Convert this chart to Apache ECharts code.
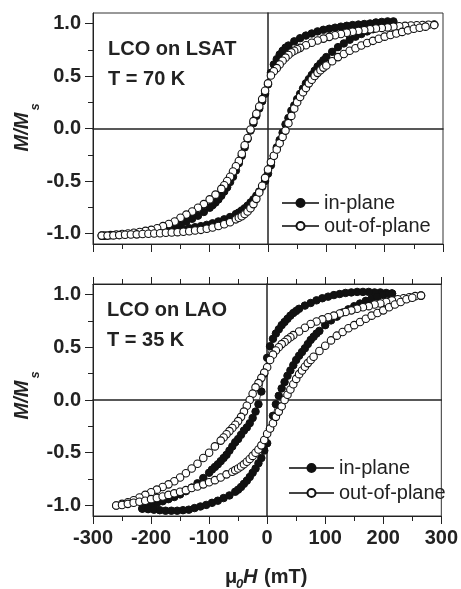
<!DOCTYPE html>
<html><head><meta charset="utf-8">
<script src="https://cdn.jsdelivr.net/npm/echarts@6/dist/echarts.min.js"></script>
<style>html,body{margin:0;padding:0;background:#fff}#c{width:461px;height:589px}</style>
</head><body><div id="c"></div>
<script>
// ---------- data (H in mT, M/Ms) ----------
const yTickValues = [-1.0, -0.5, 0.0, 0.5, 1.0];
const yMinorValues = [-0.75, -0.25, 0.25, 0.75];
const xTickValues = [-300, -200, -100, 0, 100, 200, 300];

// Top panel: LCO on LSAT, T = 70 K
const topInPlane = [
 [215,1.02],[205,1.02],[195,1.015],[185,1.01],[175,1.0],[165,0.995],[155,0.99],[145,0.985],[135,0.978],[125,0.97],[115,0.96],[105,0.95],[95,0.94],[85,0.925],[75,0.905],[65,0.885],[55,0.86],[45,0.83],[35,0.79],[30,0.77],[25,0.74],[20,0.705],[15,0.66],[10,0.61],[5,0.53],[0,0.42],[-5,0.33],[-10,0.26],[-15,0.19],[-20,0.12],[-25,0.05],[-30,-0.02],[-35,-0.10],[-40,-0.18],[-45,-0.26],[-50,-0.33],[-55,-0.40],[-60,-0.46],[-65,-0.51],[-70,-0.56],[-75,-0.60],[-80,-0.64],[-85,-0.675],[-90,-0.705],[-95,-0.73],[-100,-0.755],[-110,-0.795],[-120,-0.83],[-130,-0.86],[-140,-0.885],[-150,-0.91],[-160,-0.93],[-170,-0.945],[-180,-0.96],[-190,-0.972],[-200,-0.982],[-210,-0.99],[-215,-0.995],
 [-215,-1.0],[-205,-0.993],[-195,-0.988],[-185,-0.983],[-175,-0.978],[-165,-0.972],[-155,-0.965],[-145,-0.958],[-135,-0.95],[-125,-0.94],[-115,-0.93],[-105,-0.918],[-95,-0.903],[-85,-0.885],[-75,-0.865],[-65,-0.843],[-55,-0.815],[-50,-0.80],[-45,-0.78],[-40,-0.76],[-35,-0.735],[-30,-0.705],[-25,-0.675],[-20,-0.64],[-15,-0.60],[-10,-0.555],[-5,-0.50],[0,-0.43],[5,-0.35],[10,-0.26],[15,-0.18],[20,-0.11],[25,-0.04],[30,0.04],[35,0.10],[40,0.17],[45,0.22],[50,0.28],[55,0.33],[60,0.38],[65,0.43],[70,0.47],[75,0.51],[80,0.55],[85,0.59],[90,0.62],[95,0.65],[100,0.68],[110,0.73],[120,0.775],[130,0.81],[140,0.845],[150,0.875],[160,0.90],[170,0.925],[180,0.945],[190,0.965],[200,0.98],[210,0.995],[215,1.0]
];
const topOutPlane = [
 [285,0.99],[275,0.988],[265,0.986],[255,0.984],[245,0.981],[235,0.977],[225,0.974],[215,0.97],[205,0.963],[195,0.958],[185,0.952],[175,0.945],[165,0.937],[155,0.93],[145,0.922],[135,0.912],[125,0.9],[115,0.888],[105,0.873],[95,0.856],[85,0.838],[75,0.816],[65,0.793],[55,0.768],[50,0.755],[45,0.74],[40,0.725],[35,0.70],[30,0.675],[25,0.645],[20,0.61],[15,0.575],[10,0.545],[5,0.505],[0,0.43],[-5,0.36],[-10,0.28],[-15,0.21],[-20,0.14],[-25,0.07],[-30,-0.01],[-35,-0.09],[-40,-0.16],[-45,-0.24],[-50,-0.31],[-55,-0.36],[-60,-0.41],[-65,-0.46],[-70,-0.50],[-75,-0.54],[-80,-0.575],[-90,-0.63],[-100,-0.675],[-110,-0.72],[-120,-0.755],[-130,-0.79],[-140,-0.82],[-150,-0.85],[-160,-0.885],[-170,-0.91],[-180,-0.93],[-190,-0.95],[-200,-0.965],[-210,-0.975],[-220,-0.985],[-230,-0.993],[-240,-1.0],[-250,-1.005],[-260,-1.01],[-270,-1.015],[-280,-1.02],[-285,-1.02],
 [-285,-1.02],[-275,-1.02],[-265,-1.018],[-255,-1.015],[-245,-1.012],[-235,-1.01],[-225,-1.008],[-215,-1.005],[-205,-1.002],[-195,-1.0],[-185,-0.997],[-175,-0.993],[-165,-0.99],[-155,-0.987],[-145,-0.983],[-135,-0.978],[-125,-0.972],[-115,-0.965],[-105,-0.955],[-95,-0.943],[-85,-0.928],[-75,-0.912],[-65,-0.893],[-55,-0.865],[-50,-0.85],[-45,-0.835],[-40,-0.815],[-35,-0.79],[-30,-0.76],[-25,-0.72],[-20,-0.67],[-15,-0.61],[-10,-0.545],[-5,-0.47],[0,-0.39],[5,-0.32],[10,-0.26],[15,-0.20],[20,-0.14],[25,-0.08],[30,-0.02],[35,0.05],[40,0.12],[45,0.19],[50,0.25],[55,0.30],[60,0.345],[65,0.385],[70,0.43],[75,0.465],[80,0.50],[85,0.53],[90,0.555],[95,0.58],[100,0.60],[110,0.64],[120,0.68],[130,0.71],[140,0.74],[150,0.765],[160,0.79],[170,0.815],[180,0.835],[190,0.855],[200,0.875],[210,0.89],[220,0.905],[230,0.92],[240,0.935],[250,0.95],[260,0.96],[270,0.97],[285,0.985]
];

// Bottom panel: LCO on LAO, T = 35 K
const bottomInPlane = [
 [215,1.01],[205,1.015],[195,1.02],[185,1.02],[175,1.025],[165,1.025],[155,1.025],[145,1.02],[135,1.015],[125,1.005],[115,0.995],[105,0.98],[95,0.965],[85,0.945],[75,0.92],[65,0.895],[55,0.865],[50,0.845],[45,0.825],[40,0.80],[35,0.77],[30,0.74],[25,0.71],[20,0.67],[15,0.63],[10,0.58],[5,0.51],[0,0.40],[-5,0.25],[-10,0.08],[-15,-0.04],[-20,-0.11],[-25,-0.17],[-30,-0.22],[-35,-0.26],[-40,-0.29],[-45,-0.33],[-50,-0.37],[-55,-0.40],[-60,-0.44],[-65,-0.48],[-70,-0.52],[-75,-0.55],[-80,-0.58],[-85,-0.61],[-90,-0.635],[-95,-0.66],[-100,-0.69],[-110,-0.74],[-120,-0.79],[-130,-0.83],[-140,-0.865],[-150,-0.895],[-160,-0.92],[-170,-0.94],[-180,-0.96],[-190,-0.98],[-200,-1.0],[-210,-1.02],[-215,-1.03],
 [-215,-1.03],[-205,-1.035],[-195,-1.04],[-185,-1.045],[-175,-1.05],[-165,-1.05],[-155,-1.05],[-145,-1.045],[-135,-1.04],[-125,-1.025],[-115,-1.01],[-105,-0.995],[-95,-0.975],[-85,-0.955],[-75,-0.93],[-65,-0.905],[-55,-0.87],[-50,-0.85],[-45,-0.825],[-40,-0.795],[-35,-0.765],[-30,-0.73],[-25,-0.69],[-20,-0.65],[-15,-0.60],[-10,-0.55],[-5,-0.48],[0,-0.41],[5,-0.27],[10,-0.15],[15,-0.04],[20,0.04],[25,0.11],[30,0.17],[35,0.23],[40,0.28],[45,0.33],[50,0.38],[55,0.42],[60,0.455],[65,0.49],[70,0.53],[75,0.57],[80,0.60],[85,0.63],[90,0.655],[100,0.71],[110,0.755],[120,0.79],[130,0.83],[140,0.86],[150,0.89],[160,0.915],[170,0.94],[180,0.96],[190,0.98],[200,0.995],[210,1.005],[215,1.01]
];
const bottomOutPlane = [
 [265,0.99],[255,0.985],[245,0.975],[235,0.965],[225,0.955],[215,0.945],[205,0.93],[195,0.915],[185,0.905],[175,0.89],[165,0.88],[155,0.865],[145,0.85],[135,0.835],[125,0.82],[115,0.80],[105,0.785],[95,0.765],[85,0.745],[75,0.72],[65,0.685],[55,0.65],[45,0.615],[40,0.595],[35,0.575],[30,0.55],[25,0.53],[20,0.50],[15,0.47],[10,0.43],[5,0.38],[0,0.31],[-5,0.26],[-10,0.21],[-15,0.16],[-20,0.12],[-25,0.06],[-30,0.0],[-35,-0.055],[-40,-0.11],[-45,-0.16],[-50,-0.20],[-55,-0.235],[-60,-0.265],[-65,-0.295],[-70,-0.325],[-75,-0.355],[-80,-0.385],[-90,-0.44],[-100,-0.50],[-110,-0.55],[-120,-0.605],[-130,-0.65],[-140,-0.695],[-150,-0.735],[-160,-0.77],[-170,-0.80],[-180,-0.825],[-190,-0.85],[-200,-0.875],[-210,-0.90],[-220,-0.925],[-230,-0.95],[-240,-0.97],[-250,-0.985],[-260,-1.0],
 [-260,-1.0],[-250,-0.995],[-240,-0.985],[-230,-0.975],[-220,-0.965],[-210,-0.955],[-200,-0.94],[-190,-0.93],[-180,-0.915],[-170,-0.90],[-160,-0.885],[-150,-0.87],[-140,-0.855],[-130,-0.835],[-120,-0.82],[-110,-0.80],[-100,-0.78],[-90,-0.76],[-80,-0.735],[-70,-0.705],[-60,-0.68],[-55,-0.665],[-50,-0.65],[-45,-0.63],[-40,-0.61],[-35,-0.585],[-30,-0.56],[-25,-0.53],[-20,-0.50],[-15,-0.47],[-10,-0.43],[-5,-0.38],[0,-0.32],[5,-0.27],[10,-0.22],[15,-0.16],[20,-0.11],[25,-0.06],[30,0.0],[35,0.05],[40,0.10],[45,0.15],[50,0.20],[55,0.245],[60,0.28],[65,0.315],[70,0.35],[75,0.38],[80,0.41],[90,0.465],[100,0.515],[110,0.565],[120,0.61],[130,0.645],[140,0.68],[150,0.71],[160,0.74],[170,0.77],[180,0.80],[190,0.825],[200,0.85],[210,0.88],[220,0.905],[230,0.93],[240,0.955],[250,0.97],[265,0.99]
];

const panelLabels = [['LCO on LSAT', 'T = 70 K'], ['LCO on LAO', 'T = 35 K']];
const seriesNames = ['in-plane', 'out-of-plane'];

// ---------- styling ----------
const FONT = '"Liberation Sans", Arial, Helvetica, sans-serif';
const C = '#222';
const grids = [
  { left: 93, top: 13, width: 350, height: 231 },
  { left: 93, top: 284, width: 350, height: 232 }
];

function mainX(gi, labels) {
  return { gridIndex: gi, type: 'value', min: xTickValues[0], max: xTickValues[xTickValues.length - 1], interval: 100, position: 'bottom',
    axisLine: { show: true, onZero: false, lineStyle: { color: C, width: 1 } },
    axisTick: { show: true, inside: false, length: 8, lineStyle: { color: C, width: 1 } },
    minorTick: { show: true, splitNumber: 2, length: 5, lineStyle: { color: C, width: 1 } },
    axisLabel: { show: labels, margin: 12, fontFamily: FONT, fontSize: 20, fontWeight: 'bold', color: C },
    splitLine: { show: false }, minorSplitLine: { show: false } };
}
function zeroX(gi) {
  return { gridIndex: gi, type: 'value', min: -300, max: 300, position: 'bottom',
    axisLine: { show: true, onZero: true, lineStyle: { color: C, width: 1.5 } },
    axisTick: { show: false }, axisLabel: { show: false }, splitLine: { show: false } };
}
function topX(gi) {
  return { gridIndex: gi, type: 'value', min: -300, max: 300, interval: 100, position: 'top',
    axisLine: { show: true, onZero: false, lineStyle: { color: C, width: 1 } },
    axisTick: { show: true, inside: false, length: 7, lineStyle: { color: C } },
    minorTick: { show: true, splitNumber: 2, length: 5, lineStyle: { color: C } },
    axisLabel: { show: false }, splitLine: { show: false } };
}
function mainY(gi) {
  return { gridIndex: gi, type: 'value', min: -1.1, max: 1.1, position: 'left',
    axisLine: { show: true, onZero: false, lineStyle: { color: C, width: 1 } },
    axisTick: { show: true, inside: false, length: 8, customValues: yTickValues, lineStyle: { color: C } },
    axisLabel: { show: true, customValues: yTickValues, margin: 12, formatter: v => v.toFixed(1),
      fontFamily: FONT, fontSize: 20, fontWeight: 'bold', color: C },
    splitLine: { show: false } };
}
function minorY(gi) {
  return { gridIndex: gi, type: 'value', min: -1.1, max: 1.1, position: 'left',
    axisLine: { show: false, onZero: false },
    axisTick: { show: true, inside: false, length: 5, customValues: yMinorValues, lineStyle: { color: C } },
    axisLabel: { show: false }, splitLine: { show: false } };
}
function zeroY(gi) {
  return { gridIndex: gi, type: 'value', min: -1.1, max: 1.1, position: 'left',
    axisLine: { show: true, onZero: true, lineStyle: { color: C, width: 1.5 } },
    axisTick: { show: false }, axisLabel: { show: false }, splitLine: { show: false } };
}

function mkSeries(name, data, xi, yi, open) {
  return { type: 'line', name: name, data: data, xAxisIndex: xi, yAxisIndex: yi,
    symbol: 'circle', symbolSize: 7.5, showSymbol: true, showAllSymbol: true, z: open ? 4 : 3,
    lineStyle: { color: '#444', width: 1 },
    itemStyle: open ? { color: '#fff', borderColor: '#111', borderWidth: 1.1 } : { color: '#111', borderColor: '#111', borderWidth: 1 },
    emphasis: { disabled: true }, silent: true, animation: false };
}

function txt(x, y, text, font, rot, align) {
  return { type: 'text', x: x, y: y, rotation: rot || 0, silent: true,
    style: { text: text, font: font, fill: C, align: align || 'left', verticalAlign: 'middle' } };
}

const option = {
  animation: false,
  backgroundColor: '#fff',
  grid: grids.map(g => Object.assign({ show: true, borderColor: '#333', borderWidth: 1, backgroundColor: 'transparent' }, g)),
  xAxis: [mainX(0, false), zeroX(0), mainX(1, true), zeroX(1), topX(1)],
  yAxis: [mainY(0), minorY(0), zeroY(0), mainY(1), minorY(1), zeroY(1)],
  legend: [
    { data: seriesNames, orient: 'vertical', left: 281, top: 193, itemWidth: 37, itemHeight: 10, itemGap: 3, padding: 0,
      selectedMode: false, textStyle: { fontFamily: FONT, fontSize: 20, color: C } },
    { data: seriesNames, orient: 'vertical', left: 288, top: 458, itemWidth: 45, itemHeight: 10, itemGap: 5, padding: 0,
      selectedMode: false, textStyle: { fontFamily: FONT, fontSize: 20, color: C } }
  ],
  series: [
    mkSeries(seriesNames[0], topInPlane, 0, 0, false),
    mkSeries(seriesNames[1], topOutPlane, 0, 0, true),
    mkSeries(seriesNames[0], bottomInPlane, 2, 3, false),
    mkSeries(seriesNames[1], bottomOutPlane, 2, 3, true)
  ],
  graphic: [
    txt(108, 49, panelLabels[0][0], 'bold 20px ' + FONT),
    txt(108, 79, panelLabels[0][1], 'bold 20px ' + FONT),
    txt(107, 310, panelLabels[1][0], 'bold 20px ' + FONT),
    txt(107, 340, panelLabels[1][1], 'bold 20px ' + FONT),
    txt(22, 132, 'M/M', 'italic bold 20px ' + FONT, Math.PI / 2, 'center'),
    txt(35, 107, 's', 'italic bold 13px ' + FONT, Math.PI / 2, 'center'),
    txt(22, 400, 'M/M', 'italic bold 20px ' + FONT, Math.PI / 2, 'center'),
    txt(35, 375, 's', 'italic bold 13px ' + FONT, Math.PI / 2, 'center'),
    txt(225, 577, 'μ', 'bold 20px ' + FONT),
    txt(236, 584, '0', 'italic bold 13px ' + FONT),
    txt(243, 577, 'H', 'italic bold 20px ' + FONT),
    txt(264, 577, '(mT)', 'bold 20px ' + FONT)
  ]
};

const chart = echarts.init(document.getElementById('c'), null, { renderer: 'canvas' });
chart.setOption(option);
</script>
</body></html>
